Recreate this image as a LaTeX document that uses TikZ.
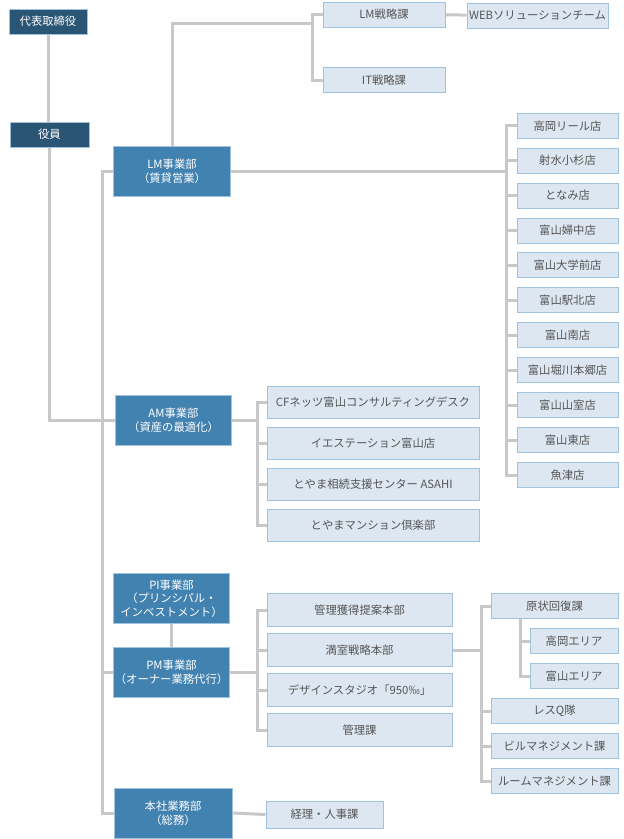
\documentclass[tikz,border=0pt]{standalone}
\usepackage{fontspec}
\setmainfont{Noto Sans CJK JP}
\usepackage{xcolor}
\usepackage{tikz}
\usetikzlibrary{backgrounds}
\definecolor{topblue}{HTML}{2B5574}
\definecolor{deptblue}{HTML}{4282B0}
\definecolor{unitfill}{HTML}{DCE7F1}
\definecolor{unitline}{HTML}{9FC3DF}
\definecolor{linkgray}{HTML}{C8C8C8}
\definecolor{unittext}{HTML}{555555}
\tikzstyle{top} = [rectangle, minimum width=58.5pt, minimum height=18.75pt, inner sep=0pt, text centered, draw=unitline, line width=0.75pt, fill=topblue, text=white, font=\fontsize{8.5}{10.5}\selectfont]
\tikzstyle{dept} = [rectangle, minimum width=87.5pt, minimum height=37.5pt, inner sep=0pt, align=center, draw=unitline, line width=0.75pt, fill=deptblue, text=white, font=\fontsize{8.5}{10.5}\selectfont]
\tikzstyle{unit} = [rectangle, minimum height=18.75pt, inner sep=0pt, text centered, draw=unitline, line width=0.75pt, fill=unitfill, text=unittext, font=\fontsize{8.5}{10.5}\selectfont]
\tikzstyle{link} = [draw=linkgray, line width=2.25pt]

\begin{document}
\begin{tikzpicture}[x=0.75pt, y=-0.75pt]
			\useasboundingbox (0,0) rectangle (624,839);
			% management
			\node (ceo) [top] at (48,21.5) {代表取締役};
			\node (exec) [top, minimum width=59.25pt] at (49.5,134.5) {役員};

			% divisions
			\node (lm) [dept] at (172,171) {LM事業部\\（賃貸営業）};
			\node (am) [dept] at (173.5,420) {AM事業部\\（資産の最適化）};
			\node (pi) [dept, font=\fontsize{8.5}{10}\selectfont] at (171.5,598.5) {PI事業部\\（プリンシパル・\\インベストメント）};
			\node (pm) [dept] at (171.5,672) {PM事業部\\（オーナー業務代行）};
			\node (hq) [dept, minimum width=88.5pt] at (173,813) {本社業務部\\（総務）};

			% LM strategy
			\node (lmsen) [unit, minimum width=91.5pt] at (384,14.5) {LM戦略課};
			\node (itsen) [unit, minimum width=91.5pt] at (384,80) {IT戦略課};
			\node (web) [unit, minimum width=105.75pt] at (537.5,15.5) {WEBソリューションチーム};

			% LM stores
			\begin{scope}[node distance=26.2pt, every node/.style={unit, minimum width=75.75pt}]
				\node (st1) at (567.5,125.7) {高岡リール店};
				\node (st2) [below of=st1] {射水小杉店};
				\node (st3) [below of=st2] {となみ店};
				\node (st4) [below of=st3] {富山婦中店};
				\node (st5) [below of=st4] {富山大学前店};
				\node (st6) [below of=st5] {富山駅北店};
				\node (st7) [below of=st6] {富山南店};
				\node (st8) [below of=st7] {富山堀川本郷店};
				\node (st9) [below of=st8] {富山山室店};
				\node (st10) [below of=st9] {富山東店};
				\node (st11) [below of=st10] {魚津店};
			\end{scope}

			% AM units
			\begin{scope}[node distance=30.75pt, every node/.style={unit, minimum width=159pt, minimum height=24pt}]
				\node (am1) at (373,402) {CFネッツ富山コンサルティングデスク};
				\node (am2) [below of=am1] {イエステーション富山店};
				\node (am3) [below of=am2] {とやま相続支援センター ASAHI};
				\node (am4) [below of=am3] {とやまマンション倶楽部};
			\end{scope}

			% PM units
			\begin{scope}[node distance=30pt, every node/.style={unit, minimum width=138.75pt, minimum height=24.75pt}]
				\node (pm1) at (359.5,610) {管理獲得提案本部};
				\node (pm2) [below of=pm1] {満室戦略本部};
				\node (pm3) [below of=pm2] {デザインスタジオ「950‰」};
				\node (pm4) [below of=pm3] {管理課};
			\end{scope}

			% vacancy strategy
			\begin{scope}[node distance=26.25pt, every node/.style={unit, minimum width=95.25pt}]
				\node (rs1) at (554.5,606) {原状回復課};
				\node (rs2) at (554.5,711) {レスQ隊};
				\node (rs3) [below of=rs2] {ビルマネジメント課};
				\node (rs4) [below of=rs3] {ルームマネジメント課};
				\node (area1) [minimum width=66pt] at (574,641) {高岡エリア};
				\node (area2) [minimum width=66pt, below of=area1] {富山エリア};
			\end{scope}

			\node (acct) [unit, minimum width=87.75pt, minimum height=20.25pt] at (324.5,814.5) {経理・人事課};

			% trunks
			\coordinate (trunk) at (102,0);
			\coordinate (topjoin) at (313,23);
			\coordinate (storetrunk) at (506,0);
			\coordinate (amtrunk) at (257,0);
			\coordinate (rstrunk) at (481,0);
			\coordinate (subtrunk) at (520,0);

			\begin{scope}[on background layer]
			\draw [link] (ceo.south) -- (ceo.south |- exec.north);
			\draw [link] (exec.south) |- (am.west);
			\draw [link] (lm.west) -- (lm.west -| trunk) |- (hq.west);
			\draw [link] (pm.west) -- (pm.west -| trunk);
			\draw [link] (pi) -- (pm);
			\draw [link] (hq.east) -- (acct.west);

			\draw [link] (lm.north) |- (topjoin);
			\draw [link] (lmsen.west) -- ++(-10,0) |- (itsen.west);
			\draw [link] (lmsen) -- (web);

			\draw [link] (lm.east) -- (lm.east -| storetrunk);
			\draw [link] (st1.west) -- (st1.west -| storetrunk) |- (st11.west);
			\draw [link] (st2.west) -- (st2.west -| storetrunk);
			\draw [link] (st3.west) -- (st3.west -| storetrunk);
			\draw [link] (st4.west) -- (st4.west -| storetrunk);
			\draw [link] (st5.west) -- (st5.west -| storetrunk);
			\draw [link] (st6.west) -- (st6.west -| storetrunk);
			\draw [link] (st7.west) -- (st7.west -| storetrunk);
			\draw [link] (st8.west) -- (st8.west -| storetrunk);
			\draw [link] (st9.west) -- (st9.west -| storetrunk);
			\draw [link] (st10.west) -- (st10.west -| storetrunk);

			\draw [link] (am.east) -- (am.east -| amtrunk);
			\draw [link] (am1.west) -- (am1.west -| amtrunk) |- (am4.west);
			\draw [link] (am2.west) -- (am2.west -| amtrunk);
			\draw [link] (am3.west) -- (am3.west -| amtrunk);

			\draw [link] (pm.east) -- (pm.east -| amtrunk);
			\draw [link] (pm1.west) -- (pm1.west -| amtrunk) |- (pm4.west);
			\draw [link] (pm2.west) -- (pm2.west -| amtrunk);
			\draw [link] (pm3.west) -- (pm3.west -| amtrunk);

			\draw [link] (pm2.east) -- (pm2.east -| rstrunk);
			\draw [link] (rs1.west) -- (rs1.west -| rstrunk) |- (rs4.west);
			\draw [link] (rs2.west) -- (rs2.west -| rstrunk);
			\draw [link] (rs3.west) -- (rs3.west -| rstrunk);
			\draw [link] (area2.west) -| (rs1.south -| subtrunk);
			\draw [link] (area1.west) -- (area1.west -| subtrunk);
			\end{scope}
		\end{tikzpicture}
\end{document}
